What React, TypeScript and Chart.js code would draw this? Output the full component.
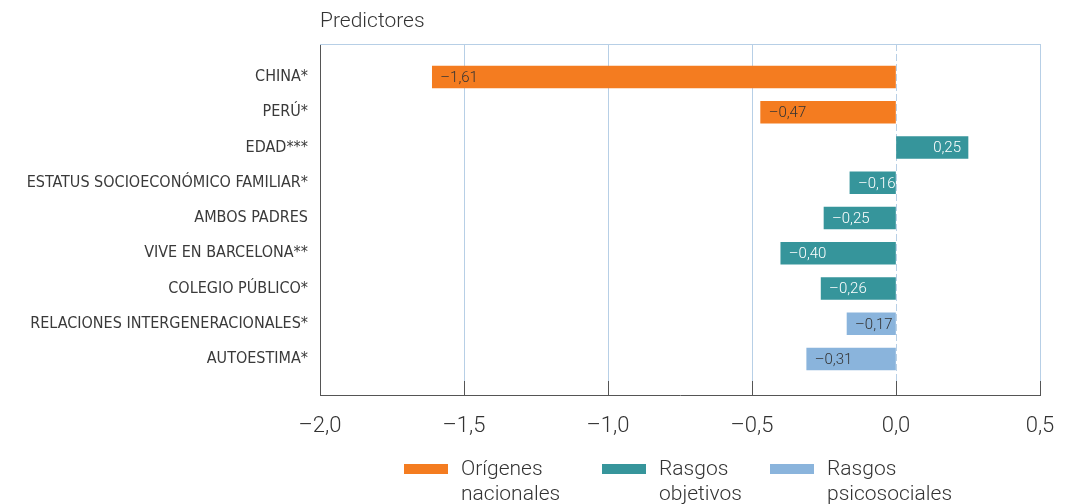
import React, { useEffect, useRef } from "react";
import { Chart, registerables } from "chart.js";

Chart.register(...registerables);

const categories = [
  "CHINA*",
  "PERÚ*",
  "EDAD***",
  "ESTATUS SOCIOECONÓMICO FAMILIAR*",
  "AMBOS PADRES",
  "VIVE EN BARCELONA**",
  "COLEGIO PÚBLICO*",
  "RELACIONES INTERGENERACIONALES*",
  "AUTOESTIMA*",
];

const seriesNames = ["Orígenes\nnacionales", "Rasgos\nobjetivos", "Rasgos\npsicosociales"];
const seriesColors = ["#f47c20", "#36959b", "#8ab4dc"];
const labelColors = ["#333333", "#ffffff", "#333333"];

// index into categories for each series
const origenesIdx = [0, 1];
const origenesVals = [-1.61, -0.47];
const objetivosIdx = [2, 3, 4, 5, 6];
const objetivosVals = [0.25, -0.16, -0.25, -0.4, -0.26];
const psicoIdx = [7, 8];
const psicoVals = [-0.17, -0.31];

const xTicks = [-2.0, -1.5, -1.0, -0.5, 0.0, 0.5];

const fmt = (v: number) => (v < 0 ? "–" : "") + Math.abs(v).toFixed(2).replace(".", ",");
const fmtTick = (v: number) => (v < 0 ? "–" : "") + Math.abs(v).toFixed(1).replace(".", ",");

const FONT = "Roboto, 'Liberation Sans', sans-serif";
const NARROW = "'Liberation Sans Narrow', 'DejaVu Sans Condensed', sans-serif";

export default function App() {
  const ref = useRef<HTMLCanvasElement | null>(null);

  useEffect(() => {
    document.body.style.margin = "0";
    const canvas = ref.current;
    if (!canvas) return;

    const mk = (idx: number[], vals: number[]) => idx.map((i, k) => ({ x: vals[k], y: i }));

    const frame = {
      id: "frame",
      beforeDatasetsDraw(chart: any) {
        const { ctx, chartArea } = chart;
        ctx.save();
        ctx.strokeStyle = "#b7cfe6";
        ctx.lineWidth = 1;
        ctx.beginPath();
        ctx.moveTo(chartArea.left, chartArea.top + 0.5);
        ctx.lineTo(chartArea.right, chartArea.top + 0.5);
        ctx.stroke();
        ctx.restore();
      },
      afterDraw(chart: any) {
        const { ctx, chartArea, scales } = chart;
        ctx.save();
        // inner ticks
        ctx.strokeStyle = "#555555";
        ctx.lineWidth = 1;
        xTicks.forEach((t) => {
          const px = Math.round(scales.x.getPixelForValue(t)) + 0.5;
          ctx.beginPath();
          ctx.moveTo(px, chartArea.bottom - 14);
          ctx.lineTo(px, chartArea.bottom);
          ctx.stroke();
        });
        // title
        ctx.fillStyle = "#333333";
        ctx.font = `300 21px ${FONT}`;
        ctx.textAlign = "left";
        ctx.textBaseline = "middle";
        ctx.fillText("Predictores", chartArea.left, 22);
        // data labels
        ctx.font = `300 15px ${FONT}`;
        chart.data.datasets.forEach((ds: any, di: number) => {
          const meta = chart.getDatasetMeta(di);
          meta.data.forEach((el: any, i: number) => {
            const v = ds.data[i].x;
            ctx.fillStyle = labelColors[di];
            const txt = fmt(v);
            if (v < 0) {
              ctx.textAlign = "left";
              ctx.fillText(txt, Math.min(el.x, el.base) + 8, el.y + 1);
            } else {
              ctx.textAlign = "right";
              ctx.fillText(txt, Math.max(el.x, el.base) - 7, el.y + 1);
            }
          });
        });
        ctx.restore();
      },
    };

    const chart = new Chart(canvas, {
      type: "bar",
      data: {
        datasets: [
          { label: seriesNames[0], data: mk(origenesIdx, origenesVals), backgroundColor: seriesColors[0] },
          { label: seriesNames[1], data: mk(objetivosIdx, objetivosVals), backgroundColor: seriesColors[1] },
          { label: seriesNames[2], data: mk(psicoIdx, psicoVals), backgroundColor: seriesColors[2] },
        ] as any,
      },
      options: {
        animation: false,
        responsive: false,
        indexAxis: "y",
        layout: { padding: { top: 44, right: 35, left: 0, bottom: 0 } },
        datasets: { bar: { barThickness: 22, grouped: false } as any },
        plugins: { legend: { display: false }, tooltip: { enabled: false } },
        scales: {
          x: {
            type: "linear",
            min: -2,
            max: 0.5,
            afterBuildTicks: (s: any) => {
              s.ticks = xTicks.map((v) => ({ value: v }));
            },
            afterFit: (s: any) => {
              s.height = 109;
            },
            ticks: {
              callback: (v: any) => fmtTick(Number(v)),
              color: "#333333",
              font: { family: FONT, size: 22, weight: "300" as any },
              padding: 18,
              maxRotation: 0,
            },
            grid: {
              drawTicks: false,
              color: (c: any) => (c.tick && c.tick.value === -2 ? "rgba(0,0,0,0)" : "#b7cfe6"),
            },
            border: {
              display: true,
              color: "#555555",
              dash: (c: any) => (c.tick && c.tick.value === 0 ? [7, 3] : []),
            } as any,
          },
          y: {
            type: "linear",
            reverse: true,
            offset: false,
            min: -0.936,
            max: 9.02,
            bounds: "data",
            afterBuildTicks: (s: any) => {
              s.ticks = categories.map((_, i) => ({ value: i }));
            },
            afterFit: (s: any) => {
              s.width = 320;
            },
            ticks: {
              callback: (v: any) => categories[Number(v)] ?? "",
              color: "#3a3a3a",
              font: { family: NARROW, size: 16 },
              padding: 12,
              autoSkip: false,
            },
            grid: { display: false, drawTicks: false, offset: false },
            border: { display: true, color: "#555555" },
          },
        },
      } as any,
      plugins: [frame],
    });

    return () => chart.destroy();
  }, []);

  const legendLefts = [404, 602, 770];

  return (
    <div style={{ position: "relative", width: 1075, height: 504, overflow: "hidden" }}>
      <canvas ref={ref} width={1075} height={504} style={{ display: "block", width: 1075, height: 504 }} />
      {seriesNames.map((name, i) => (
        <div
          key={i}
          style={{
            position: "absolute",
            left: legendLefts[i],
            top: 456,
            display: "flex",
            alignItems: "flex-start",
            fontFamily: FONT,
            fontWeight: 300,
            fontSize: 21,
            lineHeight: "25px",
            color: "#333333",
          }}
        >
          <div style={{ width: 44, height: 10, background: seriesColors[i], marginTop: 8, marginRight: 13 }} />
          <div style={{ whiteSpace: "pre" }}>{name}</div>
        </div>
      ))}
    </div>
  );
}
